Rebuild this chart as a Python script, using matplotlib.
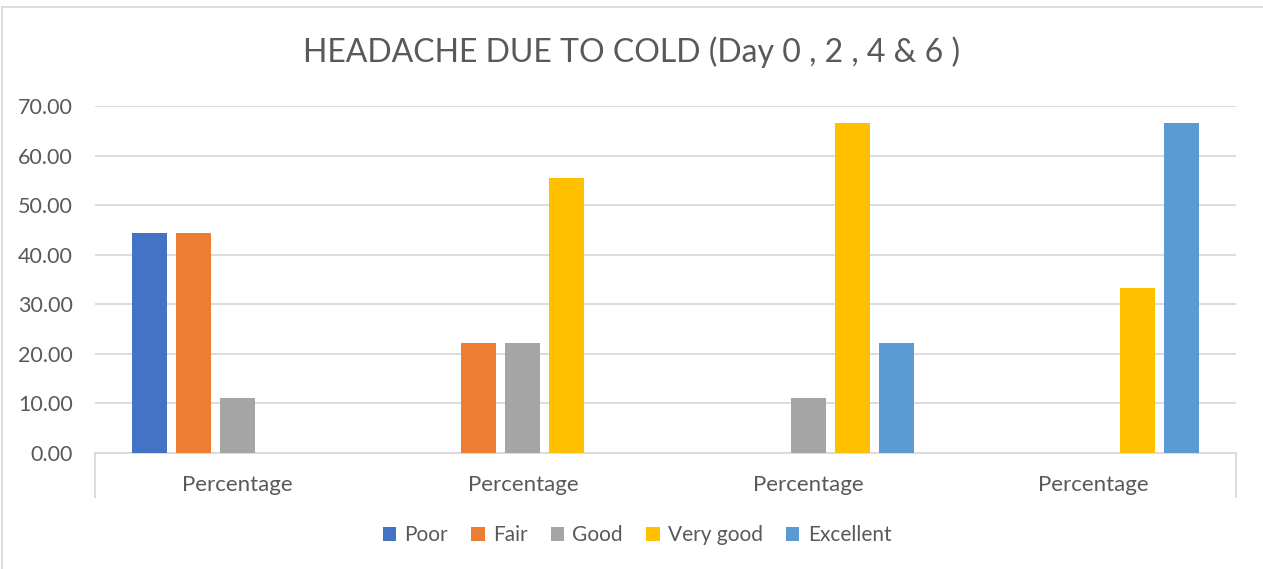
import matplotlib
matplotlib.use("Agg")
import matplotlib.pyplot as plt
from matplotlib.lines import Line2D
from matplotlib.patches import Patch
import numpy as np

plt.rcParams['font.family'] = ['Lato', 'DejaVu Sans']

categories = ["Percentage", "Percentage", "Percentage", "Percentage"]
series_names = ["Poor", "Fair", "Good", "Very good", "Excellent"]
poor = [44.44, 0, 0, 0]
fair = [44.44, 22.22, 0, 0]
good = [11.11, 22.22, 11.11, 0]
very_good = [0, 55.56, 66.67, 33.33]
excellent = [0, 0, 22.22, 66.67]
yticks = [0, 10, 20, 30, 40, 50, 60, 70]
title = "HEADACHE DUE TO COLD (Day 0 , 2 , 4 & 6 )"

colors = ["#4472C4", "#ED7D31", "#A5A5A5", "#FFC000", "#5B9BD5"]
text_color = "#595959"
grid_color = "#D9D9D9"

W, H = 1263, 569
fig = plt.figure(figsize=(W / 100, H / 100), dpi=100)
ax = fig.add_axes([95 / W, 1 - 453 / H, (1236 - 95) / W, (453 - 106) / H])

x = np.arange(len(categories))
bar_w = 35 / 285
step = 44 / 285
all_series = [poor, fair, good, very_good, excellent]
for j, (vals, name, c) in enumerate(zip(all_series, series_names, colors)):
    ax.bar(x + (j - 2) * step, vals, width=bar_w, color=c, label=name, zorder=3)

ax.set_xlim(-0.5, len(categories) - 0.5)
ax.set_ylim(0, 70)
ax.set_yticks(yticks)
ax.set_yticklabels([f"{v:.2f}" for v in yticks], color=text_color, fontsize=15.5)
ax.tick_params(axis='y', length=0, pad=16)
ax.set_xticks(x)
ax.set_xticklabels(categories, color=text_color, fontsize=16)
ax.tick_params(axis='x', length=0, pad=16)
ax.yaxis.grid(True, color=grid_color, linewidth=1.3, zorder=0)
for s in ['left', 'right', 'top']:
    ax.spines[s].set_visible(False)
ax.spines['bottom'].set_color(grid_color)
ax.spines['bottom'].set_linewidth(1.3)

# category box side lines
for xx in (0, 1):
    ax.add_line(Line2D([xx, xx], [0, -44 / (453 - 106)], transform=ax.transAxes,
                       color=grid_color, linewidth=1.3, clip_on=False))

fig.text(0.5, 1 - 52 / H, title, ha='center', va='center', color=text_color, fontsize=23)

handles = [Patch(facecolor=c, edgecolor='none') for c in colors]
fig.legend(handles, series_names, loc='center', bbox_to_anchor=(637 / W, 1 - 535 / H),
           ncol=5, frameon=False, fontsize=15, labelcolor=text_color,
           handlelength=0.65, handleheight=0.65, handletextpad=0.4, columnspacing=1.1)

# outer chart border (top and left visible)
fig.add_artist(Line2D([2 / W, 1], [1 - 7 / H, 1 - 7 / H], transform=fig.transFigure,
                      color=grid_color, linewidth=1.3))
fig.add_artist(Line2D([2 / W, 2 / W], [0, 1 - 7 / H], transform=fig.transFigure,
                      color=grid_color, linewidth=1.3))

fig.savefig("out.png", dpi=100, facecolor='white')
